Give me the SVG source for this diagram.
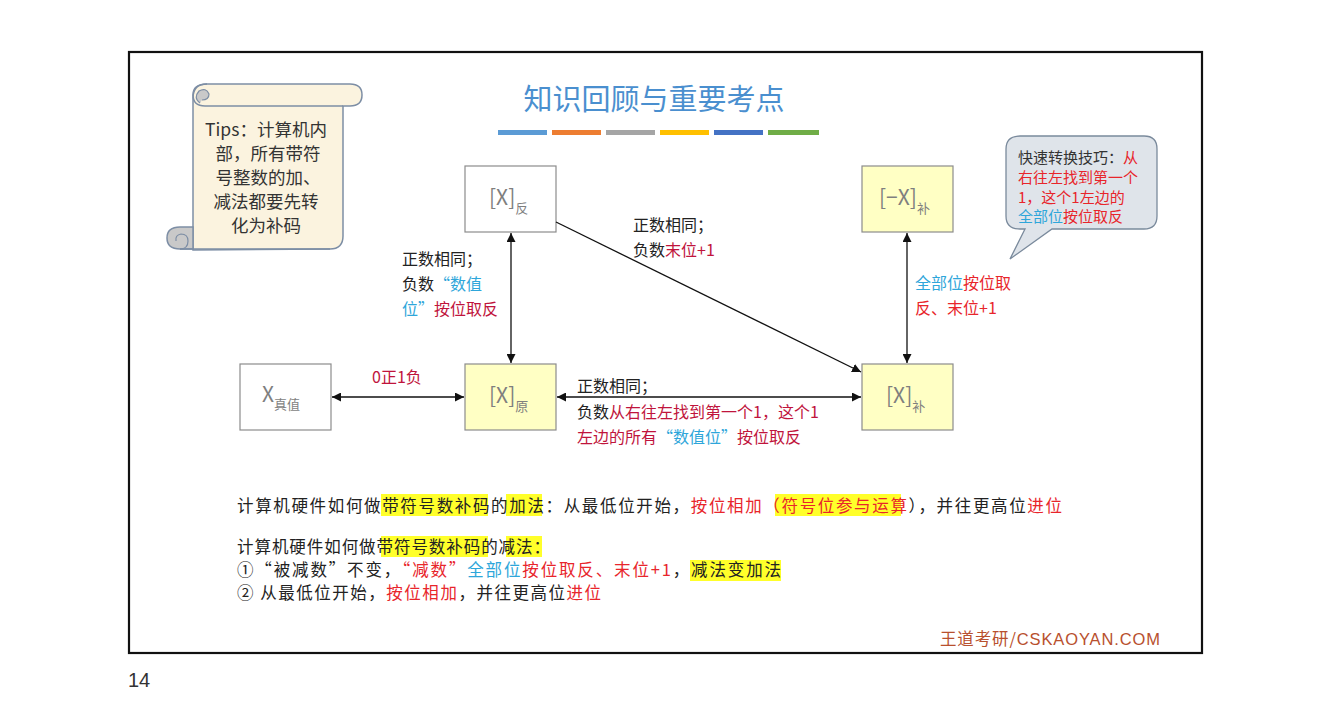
<svg xmlns="http://www.w3.org/2000/svg" width="1330" height="724" viewBox="0 0 1330 724">
<defs>
<style>
text{font-family:"Noto Sans CJK SC","Noto Sans",sans-serif;}
.box{stroke:#8c8c8c;stroke-width:1.2;}
.wbox{fill:#ffffff;}
.ybox{fill:#ffffc4;}
.bl{font-size:21px;fill:#7f7f7f;}
.sub{font-size:13px;}
.lab{font-size:16px;fill:#222;}
.cr{fill:#c0143c;}
.rd{fill:#e8252b;}
.bu{fill:#2ea6da;}
.bt{font-size:16.5px;fill:#222;}
.hl{fill:#ffff2a;}
.conn{stroke:#111;stroke-width:1.3;fill:none;}
</style>
<marker id="ah" viewBox="0 0 10 10" refX="10" refY="5" markerWidth="9" markerHeight="9" markerUnits="userSpaceOnUse" orient="auto-start-reverse">
<path d="M0,0 L10,5 L0,10 z" fill="#111"/>
</marker>
</defs>
<rect x="0" y="0" width="1330" height="724" fill="#ffffff"/>
<rect x="129" y="52" width="1073" height="601" fill="none" stroke="#111" stroke-width="2.2"/>
<text x="128" y="687" font-size="20" fill="#333" style="font-family:'Liberation Sans',sans-serif">14</text>

<g id="scroll">
<path d="M193,250 L193,98 Q193,84 207,84 L350,84 Q362,84 362,95 Q362,106 350,106 L343,106 L343,236 Q343,249 330,249 Z" fill="#fbf3df" stroke="#7d8ea5" stroke-width="1.5"/>
<path d="M207,84 Q193,84 193,95 Q193,106 205,106 L343,106" fill="none" stroke="#7d8ea5" stroke-width="1.5"/>
<path d="M200,103 Q193,98 199,91 Q206,87 209,94 Q209,100 202,100" fill="#c9c9c9" stroke="#7d8ea5" stroke-width="1.2"/>
<path d="M180,249 Q167,249 167,238 Q167,227 180,227 L193,227 L193,249 Z" fill="#c9c9c9" stroke="#7d8ea5" stroke-width="1.5"/>
<path d="M180,249 Q188,249 188,241 Q188,234 181,234 Q175,235 176,241" fill="none" stroke="#7d8ea5" stroke-width="1.2"/>
<path d="M180,249 L330,249" stroke="#7d8ea5" stroke-width="1.5"/>
<g font-size="17.5" fill="#333" text-anchor="middle">
<text x="266" y="136">Tips：计算机内</text>
<text x="268" y="160">部，所有带符</text>
<text x="268" y="184">号整数的加、</text>
<text x="266" y="208">减法都要先转</text>
<text x="266" y="232">化为补码</text>
</g>
</g>

<g id="title">
<text x="654" y="110" font-size="29" fill="#4a8fcf" text-anchor="middle">知识回顾与重要考点</text>
<rect x="498" y="130" width="49" height="5" fill="#5b9bd5"/>
<rect x="552" y="130" width="49" height="5" fill="#ed7d31"/>
<rect x="606" y="130" width="49" height="5" fill="#a5a5a5"/>
<rect x="660" y="130" width="49" height="5" fill="#ffc000"/>
<rect x="714" y="130" width="49" height="5" fill="#4472c4"/>
<rect x="768" y="130" width="51" height="5" fill="#70ad47"/>
</g>

<g id="callout">
<path d="M1020,136 L1144,136 Q1157,136 1157,149 L1157,216 Q1157,229 1144,229 L1052,229 L1010,259 L1025,229 L1020,229 Q1006,229 1006,216 L1006,149 Q1006,136 1020,136 Z" fill="#dfe4ea" stroke="#7a8a9c" stroke-width="1.3"/>
<g font-size="15">
<text x="1018" y="163"><tspan fill="#333">快速转换技巧：</tspan><tspan class="rd">从</tspan></text>
<text x="1018" y="183" class="rd">右往左找到第一个</text>
<text x="1018" y="203" class="rd">1，这个1左边的</text>
<text x="1018" y="222"><tspan class="bu">全部位</tspan><tspan class="rd">按位取反</tspan></text>
</g>
</g>

<g id="node-fan">
<rect class="box wbox" x="465" y="166" width="91" height="66"/>
<text class="bl" x="489" y="205">[X]<tspan class="sub" dy="8">反</tspan></text>
</g>
<g id="node-negbu">
<rect class="box ybox" x="862" y="166" width="91" height="66"/>
<text class="bl" x="879" y="205">[−X]<tspan class="sub" dy="8">补</tspan></text>
</g>
<g id="node-zhen">
<rect class="box wbox" x="240" y="364" width="91" height="66"/>
<text class="bl" x="262" y="402">X<tspan class="sub" dy="7">真值</tspan></text>
</g>
<g id="node-yuan">
<rect class="box ybox" x="465" y="364" width="91" height="66"/>
<text class="bl" x="489" y="403">[X]<tspan class="sub" dy="8">原</tspan></text>
</g>
<g id="node-bu">
<rect class="box ybox" x="862" y="364" width="91" height="66"/>
<text class="bl" x="886" y="403">[X]<tspan class="sub" dy="8">补</tspan></text>
</g>

<g id="connectors">
<line class="conn" x1="511" y1="233" x2="511" y2="363" marker-start="url(#ah)" marker-end="url(#ah)"/>
<line class="conn" x1="556" y1="222" x2="861" y2="372" marker-end="url(#ah)"/>
<line class="conn" x1="332" y1="397" x2="464" y2="397" marker-start="url(#ah)" marker-end="url(#ah)"/>
<line class="conn" x1="557" y1="397" x2="861" y2="397" marker-start="url(#ah)" marker-end="url(#ah)"/>
<line class="conn" x1="907" y1="233" x2="907" y2="363" marker-start="url(#ah)" marker-end="url(#ah)"/>
</g>

<g id="labels">
<text class="lab" x="402" y="265">正数相同；</text>
<text class="lab" x="402" y="290">负数<tspan class="bu">“数值</tspan></text>
<text class="lab" x="402" y="315"><tspan class="bu">位”</tspan><tspan class="cr">按位取反</tspan></text>
<text class="lab" x="633" y="231">正数相同；</text>
<text class="lab" x="633" y="256">负数<tspan class="cr">末位+1</tspan></text>
<text class="lab" x="915" y="289"><tspan class="bu">全部位</tspan><tspan class="rd">按位取</tspan></text>
<text class="lab rd" x="915" y="314">反、末位+1</text>
<text class="lab cr" x="372" y="383">0正1负</text>
<text class="lab" x="577" y="392">正数相同；</text>
<text class="lab" x="577" y="418">负数<tspan class="cr">从右往左找到第一个1，这个1</tspan></text>
<text class="lab" x="577" y="443"><tspan class="cr">左边的所有</tspan><tspan class="bu">“数值位”</tspan><tspan class="cr">按位取反</tspan></text>
</g>

<g id="notes">
<rect class="hl" x="381" y="494" width="107" height="22"/>
<rect class="hl" x="506" y="494" width="36" height="22"/>
<rect class="hl" x="775" y="494" width="126" height="22"/>
<rect class="hl" x="381" y="536" width="107" height="21"/>
<rect class="hl" x="506" y="536" width="36" height="21"/>
<rect class="hl" x="690" y="560" width="91" height="21"/>
<text class="bt" x="237" y="512" textLength="825">计算机硬件如何做带符号数补码的加法：从最低位开始，<tspan class="rd">按位相加（</tspan><tspan class="rd">符号位参与运算</tspan>），并往更高位<tspan class="rd">进位</tspan></text>
<text class="bt" x="237" y="553" textLength="313">计算机硬件如何做带符号数补码的减法：</text>
<text class="bt" x="237" y="576" textLength="544">①“被减数”不变，<tspan class="rd">“减数”</tspan><tspan class="bu">全部位</tspan><tspan class="rd">按位取反、末位+1</tspan>，减法变加法</text>
<text class="bt" x="237" y="599" textLength="364">② 从最低位开始，<tspan class="rd">按位相加</tspan>，并往更高位<tspan class="rd">进位</tspan></text>
</g>

<text x="940" y="645" font-size="16.5" fill="#b8502e" textLength="220">王道考研/<tspan style="font-family:'Liberation Sans',sans-serif">CSKAOYAN.COM</tspan></text>
</svg>
